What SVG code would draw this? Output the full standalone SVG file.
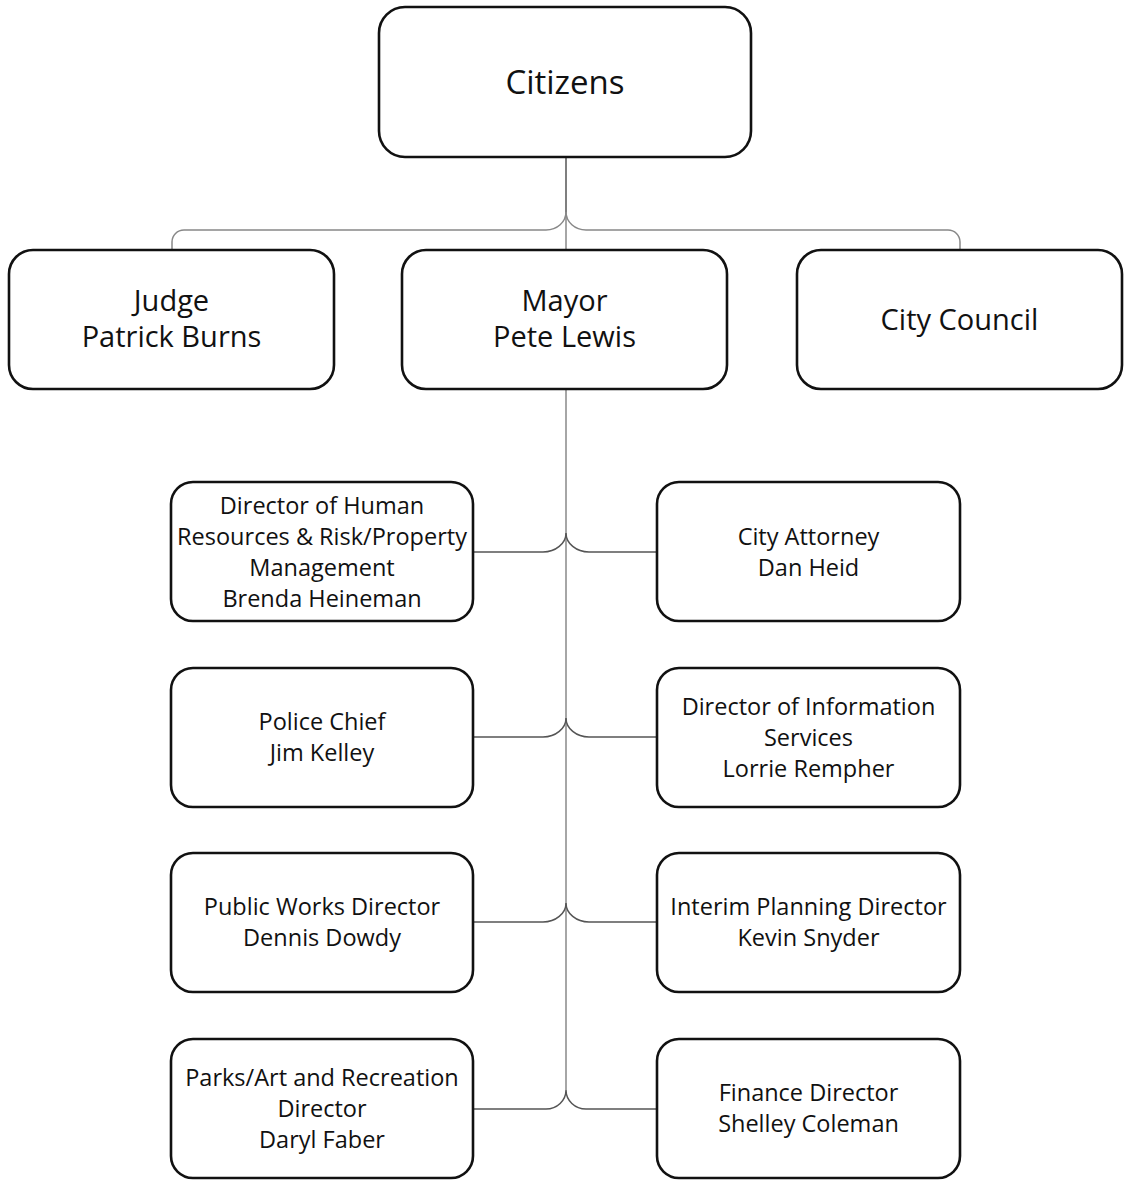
<svg xmlns="http://www.w3.org/2000/svg" width="1127" height="1183" viewBox="0 0 1127 1183">
<style>
.box{fill:#fff;stroke:#111;stroke-width:2.6}
.t{font-family:"Open Sans","Liberation Sans",sans-serif;fill:#111;text-anchor:middle}
.big{font-size:33px}
.mid{font-size:29px}
.sm{font-size:23.5px}
.ln{fill:none;stroke:#555;stroke-width:1.5}
.vl{fill:none;stroke:#888;stroke-width:1.5}
</style>
<rect width="1127" height="1183" fill="#fff"/>
<g id="connectors">
<path class="ln" d="M566 157 V212"/>
<path class="vl" d="M566 212 V250"/>
<path class="vl" d="M566 212 A20 18 0 0 1 546 230 H184 A12 12 0 0 0 172 242 V250"/>
<path class="vl" d="M566 212 A20 18 0 0 0 586 230 H948 A12 12 0 0 1 960 242 V250"/>
<path class="vl" d="M566 389 V1090"/>
<path class="ln" d="M473 552 H543 A23 19 0 0 0 566 533 A23 19 0 0 0 589 552 H657"/>
<path class="ln" d="M473 737 H543 A23 19 0 0 0 566 718 A23 19 0 0 0 589 737 H657"/>
<path class="ln" d="M473 922 H543 A23 19 0 0 0 566 903 A23 19 0 0 0 589 922 H657"/>
<path class="ln" d="M473 1109 H546 A20 19 0 0 0 566 1090 A20 19 0 0 0 586 1109 H657"/>
</g>
<g id="citizens"><rect class="box" x="379" y="7" width="372" height="150" rx="26"/><text class="t big" x="565" y="94">Citizens</text></g>
<g id="judge"><rect class="box" x="9" y="250" width="325" height="139" rx="24"/><text class="t mid" x="171.5" y="311">Judge</text><text class="t mid" x="171.5" y="347">Patrick Burns</text></g>
<g id="mayor"><rect class="box" x="402" y="250" width="325" height="139" rx="24"/><text class="t mid" x="564.5" y="311">Mayor</text><text class="t mid" x="564.5" y="347">Pete Lewis</text></g>
<g id="council"><rect class="box" x="797" y="250" width="325" height="139" rx="24"/><text class="t mid" x="959.5" y="330">City Council</text></g>
<g id="hr"><rect class="box" x="171" y="482" width="302" height="139" rx="22"/><text class="t sm" x="322" y="514">Director of Human</text><text class="t sm" x="322" y="545">Resources &amp; Risk/Property</text><text class="t sm" x="322" y="576">Management</text><text class="t sm" x="322" y="607">Brenda Heineman</text></g>
<g id="attorney"><rect class="box" x="657" y="482" width="303" height="139" rx="22"/><text class="t sm" x="808.5" y="545">City Attorney</text><text class="t sm" x="808.5" y="576">Dan Heid</text></g>
<g id="police"><rect class="box" x="171" y="668" width="302" height="139" rx="22"/><text class="t sm" x="322" y="730">Police Chief</text><text class="t sm" x="322" y="761">Jim Kelley</text></g>
<g id="info"><rect class="box" x="657" y="668" width="303" height="139" rx="22"/><text class="t sm" x="808.5" y="715">Director of Information</text><text class="t sm" x="808.5" y="746">Services</text><text class="t sm" x="808.5" y="777">Lorrie Rempher</text></g>
<g id="publicworks"><rect class="box" x="171" y="853" width="302" height="139" rx="22"/><text class="t sm" x="322" y="915">Public Works Director</text><text class="t sm" x="322" y="946">Dennis Dowdy</text></g>
<g id="planning"><rect class="box" x="657" y="853" width="303" height="139" rx="22"/><text class="t sm" x="808.5" y="915">Interim Planning Director</text><text class="t sm" x="808.5" y="946">Kevin Snyder</text></g>
<g id="parks"><rect class="box" x="171" y="1039" width="302" height="139" rx="22"/><text class="t sm" x="322" y="1086">Parks/Art and Recreation</text><text class="t sm" x="322" y="1117">Director</text><text class="t sm" x="322" y="1148">Daryl Faber</text></g>
<g id="finance"><rect class="box" x="657" y="1039" width="303" height="139" rx="22"/><text class="t sm" x="808.5" y="1101">Finance Director</text><text class="t sm" x="808.5" y="1132">Shelley Coleman</text></g>
</svg>
